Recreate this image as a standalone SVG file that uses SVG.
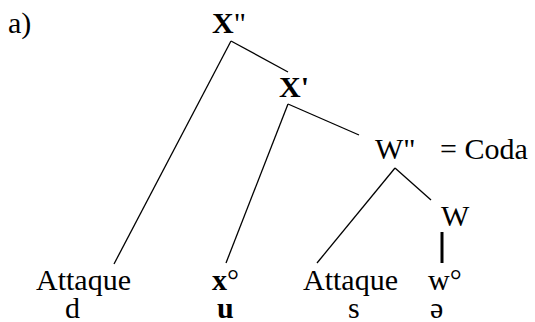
<svg xmlns="http://www.w3.org/2000/svg" width="535" height="322" viewBox="0 0 535 322">
<style>
.t{font-family:'Liberation Serif',serif;font-size:30px;fill:#000}
.b{font-weight:bold}
.e line{stroke:#000;stroke-width:1.3}
</style>
<rect width="535" height="322" fill="#fff"/>
<g class="t" font-family="Liberation Serif, serif">
<text x="8" y="33">a)</text>
<g id="Xpp"><text x="212" y="33"><tspan class="b">X</tspan>"</text></g>
<g id="Xp"><text x="279" y="97" class="b">X'</text></g>
<g id="Wpp"><text x="375" y="159">W"</text><text x="440" y="159">= Coda</text></g>
<g id="W"><text x="441" y="226">W</text></g>
<g id="att1"><text x="36" y="290">Attaque</text><text x="65" y="318">d</text></g>
<g id="xo"><text x="212" y="290"><tspan class="b">x</tspan>°</text><text x="217" y="318" class="b">u</text></g>
<g id="att2"><text x="303" y="290">Attaque</text><text x="348" y="318">s</text></g>
<g id="wo"><text x="428" y="290">w°</text><text x="430" y="318">ə</text></g>
</g>
<g id="edges" class="e">
<line x1="231" y1="41" x2="114" y2="264"/>
<line x1="231" y1="41" x2="288" y2="72"/>
<line x1="288" y1="104" x2="359" y2="135"/>
<line x1="288" y1="104" x2="226" y2="263"/>
<line x1="395" y1="168" x2="317" y2="263"/>
<line x1="395" y1="168" x2="431" y2="200"/>
<line x1="442" y1="232" x2="442" y2="263" style="stroke-width:3"/>
</g>
</svg>
